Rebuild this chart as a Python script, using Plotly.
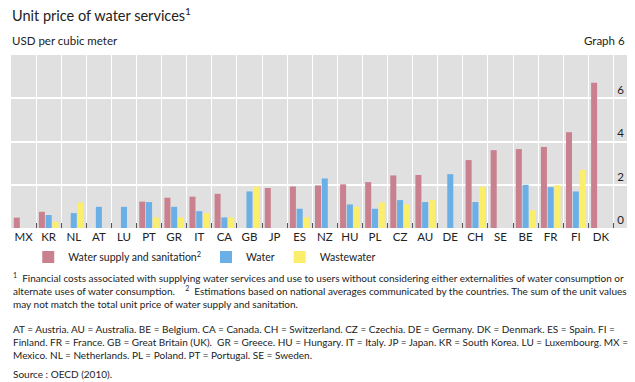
import plotly.graph_objects as go

categories = ["MX", "KR", "NL", "AT", "LU", "PT", "GR", "IT", "CA", "GB", "JP", "ES",
              "NZ", "HU", "PL", "CZ", "AU", "DE", "CH", "SE", "BE", "FR", "FI", "DK"]
supply_sanitation = [0.48, 0.75, None, None, None, 1.22, 1.40, 1.45, 1.58, None, 1.85, 1.92,
                     1.97, 2.02, 2.12, 2.43, 2.45, None, 3.14, 3.60, 3.65, 3.75, 4.43, 6.72]
water = [None, 0.60, 0.69, 0.98, 0.98, 1.20, 0.98, 0.78, 0.49, 1.69, None, 0.89,
         2.29, 1.09, 0.89, 1.29, 1.20, 2.49, 1.20, None, 2.00, 1.89, 1.69, None]
wastewater = [None, 0.29, 1.18, None, None, 0.49, 0.49, 0.69, 0.49, 1.91, None, 0.49,
              None, 0.98, 1.18, 1.09, 1.29, None, 1.91, None, 0.82, 1.98, 2.69, None]
y_ticks = [0, 2, 4, 6]

PINK = "#C9818F"
BLUE = "#6AAFE6"
YELLOW = "#FBEE6A"
FONT = "Lato"

fig = go.Figure()
fig.add_trace(go.Bar(x=categories, y=supply_sanitation, name="Water supply and sanitation<sup>2</sup>",
                     marker=dict(color=PINK, line=dict(width=0))))
fig.add_trace(go.Bar(x=categories, y=water, name="Water",
                     marker=dict(color=BLUE, line=dict(width=0))))
fig.add_trace(go.Bar(x=categories, y=wastewater, name="Wastewater",
                     marker=dict(color=YELLOW, line=dict(width=0))))

H = 173.0  # plot height in px
def py(ypix):
    return (228.0 - ypix) / H

annotations = [
    dict(text="Unit price of water services<sup>1</sup>", x=0, xref="paper", xanchor="left",
         y=py(14), yref="paper", yanchor="middle", showarrow=False,
         font=dict(size=14.5, color="#222222", family=FONT), xshift=-1),
    dict(text="USD per cubic meter", x=0, xref="paper", xanchor="left",
         y=py(40), yref="paper", yanchor="middle", showarrow=False,
         font=dict(size=11.5, color="#222222", family=FONT), xshift=-1),
    dict(text="Graph 6", x=1, xref="paper", xanchor="right",
         y=py(40), yref="paper", yanchor="middle", showarrow=False,
         font=dict(size=11.5, color="#222222", family=FONT)),
    dict(text="<sup>1</sup>  Financial costs associated with supplying water services and use to users without considering either externalities of water consumption or<br>"
              "alternate uses of water consumption.    <sup>2</sup>  Estimations based on national averages communicated by the countries. The sum of the unit values<br>"
              "may not match the total unit price of water supply and sanitation.",
         x=0, xref="paper", xanchor="left", align="left",
         y=py(269), yref="paper", yanchor="top", showarrow=False,
         font=dict(size=10, color="#222222", family=FONT)),
    dict(text="AT = Austria. AU = Australia. BE = Belgium. CA = Canada. CH = Switzerland. CZ = Czechia. DE = Germany. DK = Denmark. ES = Spain. FI =<br>"
              "Finland. FR = France. GB = Great Britain (UK).  GR = Greece. HU = Hungary. IT = Italy. JP = Japan. KR = South Korea. LU = Luxembourg. MX =<br>"
              "Mexico. NL = Netherlands. PL = Poland. PT = Portugal. SE = Sweden.",
         x=0, xref="paper", xanchor="left", align="left",
         y=py(321), yref="paper", yanchor="top", showarrow=False,
         font=dict(size=10, color="#222222", family=FONT)),
    dict(text="Source : OECD (2010).", x=0, xref="paper", xanchor="left",
         y=py(374), yref="paper", yanchor="middle", showarrow=False,
         font=dict(size=10, color="#222222", family=FONT)),
]

fig.update_layout(
    width=635, height=382,
    margin=dict(l=11, r=8, t=55, b=154, pad=0),
    paper_bgcolor="white",
    plot_bgcolor="#E0E0E0",
    barmode="group",
    bargap=0.19,
    bargroupgap=0.11,
    font=dict(family=FONT, size=11, color="#222222"),
    showlegend=True,
    legend=dict(orientation="h", x=0.028, xanchor="left", y=py(257), yanchor="middle",
                font=dict(size=10.5, family=FONT, color="#222222"),
                itemsizing="constant", tracegroupgap=0, bgcolor="rgba(0,0,0,0)"),
    annotations=annotations,
    xaxis=dict(type="category", categoryorder="array", categoryarray=categories,
               range=[-0.5, 24.04], tickson="boundaries", ticks="inside", ticklen=5,
               tickcolor="#555555", tickwidth=1, showgrid=True, gridcolor="white", gridwidth=1,
               showline=False, zeroline=False, tickangle=0,
               tickfont=dict(size=11.5, color="#222222"), fixedrange=True),
    yaxis=dict(range=[0, 8], side="right", tickvals=y_ticks, ticklabelposition="inside top",
               showgrid=True, gridcolor="white", gridwidth=1.5, zeroline=False, showline=False,
               ticks="", tickfont=dict(size=11.5, color="#222222"), fixedrange=True),
)

fig.write_html("out.html", config={"displayModeBar": False},
               post_script="document.body.style.margin='0';document.body.style.overflow='hidden';")
